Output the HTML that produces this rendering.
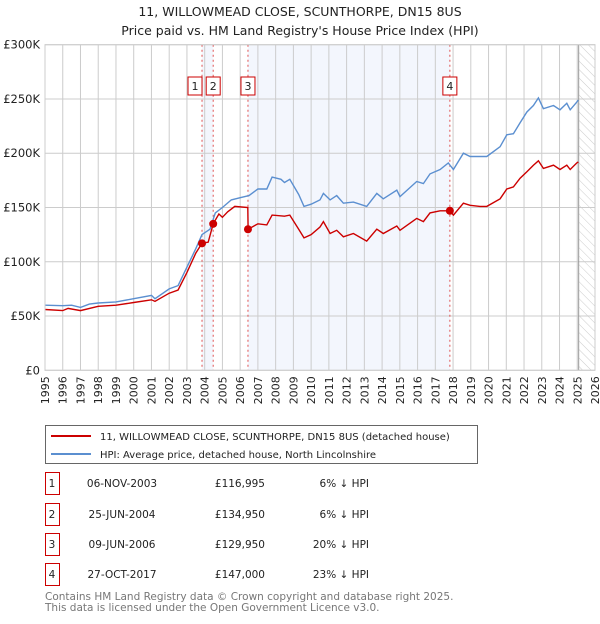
<!DOCTYPE html>
<html><head><meta charset="utf-8">
<style>
body{margin:0;background:#fff;font-family:"DejaVu Sans","Liberation Sans",sans-serif;}
svg text{font-family:"DejaVu Sans","Liberation Sans",sans-serif;}
</style></head>
<body>
<svg id="chart" width="600" height="620" xmlns="http://www.w3.org/2000/svg">
<defs>
<pattern id="hatch" width="6" height="6" patternUnits="userSpaceOnUse" patternTransform="rotate(-45)">
<line x1="0" y1="0" x2="0" y2="6" stroke="#ccc" stroke-width="1"/>
</pattern>
</defs>
<text x="300" y="16" text-anchor="middle" font-size="12.5" fill="#222">11, WILLOWMEAD CLOSE, SCUNTHORPE, DN15 8US</text>
<text x="300" y="35" text-anchor="middle" font-size="12.5" fill="#222">Price paid vs. HM Land Registry's House Price Index (HPI)</text>
<g id="plot"></g>
<g>
<rect x="45.5" y="425.5" width="432" height="38" fill="#fff" stroke="#666"/>
<line x1="51" y1="436" x2="91" y2="436" stroke="#cc0000" stroke-width="2"/>
<text x="100" y="440" font-size="10" fill="#222">11, WILLOWMEAD CLOSE, SCUNTHORPE, DN15 8US (detached house)</text>
<line x1="51" y1="454" x2="91" y2="454" stroke="#5b8fd0" stroke-width="2"/>
<text x="100" y="458" font-size="10" fill="#222">HPI: Average price, detached house, North Lincolnshire</text>
</g>
<g id="table" font-size="10.5" fill="#222"></g>
<text x="45" y="600" font-size="10.5" fill="#777">Contains HM Land Registry data © Crown copyright and database right 2025.</text>
<text x="45" y="611" font-size="10.5" fill="#777">This data is licensed under the Open Government Licence v3.0.</text>
</svg>
<script>
const years=[1995,1996,1997,1998,1999,2000,2001,2002,2003,2004,2005,2006,2007,2008,2009,2010,2011,2012,2013,2014,2015,2016,2017,2018,2019,2020,2021,2022,2023,2024,2025,2026];
const yTicks=[0,50000,100000,150000,200000,250000,300000];
const yTickLabels=["£0","£50K","£100K","£150K","£200K","£250K","£300K"];
const hpiT=[1995,1996,1996.5,1997,1997.5,1998,1999,2000,2001,2001.2,2002,2002.5,2003,2003.5,2003.85,2004.3,2004.6,2005,2005.5,2006,2006.5,2007,2007.5,2007.8,2008.3,2008.5,2008.8,2009.3,2009.6,2010,2010.5,2010.69,2011.07,2011.44,2011.82,2012.38,2013.13,2013.7,2014.07,2014.83,2015.01,2015.95,2016.33,2016.7,2017.27,2017.73,2018.02,2018.58,2018.96,2019.52,2019.9,2020.65,2021.03,2021.4,2021.78,2022.16,2022.53,2022.81,2023.09,2023.66,2024.03,2024.41,2024.6,2024.97,2025.06];
const hpiV=[60,59.5,60,58,61,62,63,66,69,66,75,78,95,112,125,130,145,150,157,159,161,167,167,178,176,173,176,162,151,153,157,163,157,161,154,155,151,163,158,166,160,174,172,181,185,191,185,200,197,197,197,206,217,218,228,238,244,251,241,244,240,246,240,247,249];
const ppT=[1995,1996,1996.3,1997,1998,1999,2000,2001,2001.2,2002,2002.5,2003,2003.5,2003.85,2004.2,2004.48,2004.8,2005,2005.3,2005.7,2006.43,2006.45,2007,2007.5,2007.8,2008.5,2008.8,2009.3,2009.6,2010,2010.5,2010.69,2011.07,2011.44,2011.82,2012.38,2013.13,2013.7,2014.07,2014.83,2015.01,2015.95,2016.33,2016.7,2017.27,2017.82,2018.02,2018.58,2018.96,2019.52,2019.9,2020.65,2021.03,2021.4,2021.78,2022.16,2022.53,2022.81,2023.09,2023.66,2024.03,2024.41,2024.6,2024.97,2025.06];
const ppV=[56,55,57,55,59,60,62.5,65,63.5,71,74,90,108,117,118,135,144,141,146,151,150,130,135,134,143,142,143,130,122,125,132,137,126,129,123,126,119,130,126,133,129,140,137,145,147,147,143,154,152,151,151,158,167,169,177,183,189,193,186,189,185,189,185,191,192];
const saleIds=["1","2","3","4"];
const saleT=[2003.85,2004.48,2006.44,2017.82];
const saleV=[116995,134950,129950,147000];
const saleDates=["06-NOV-2003","25-JUN-2004","09-JUN-2006","27-OCT-2017"];
const salePrices=["£116,995","£134,950","£129,950","£147,000"];
const saleHpi=["6% ↓ HPI","6% ↓ HPI","20% ↓ HPI","23% ↓ HPI"];

const X0=45,X1=595,Y0=370.3,Y1=44.7;
const xs=t=>X0+(t-1995)/(2026-1995)*(X1-X0);
const ys=v=>Y0-v/300000*(Y0-Y1);
const NS="http://www.w3.org/2000/svg";
const plot=document.getElementById('plot');
function mk(tag,attrs,parent){const e=document.createElementNS(NS,tag);for(const k in attrs)e.setAttribute(k,attrs[k]);(parent||plot).appendChild(e);return e;}

let r=mk('rect',{x:xs(saleT[0]),y:Y1,width:xs(saleT[1])-xs(saleT[0]),height:Y0-Y1,fill:'#eef2fc',opacity:0.7});


r=mk('rect',{x:xs(saleT[2]),y:Y1,width:xs(saleT[3])-xs(saleT[2]),height:Y0-Y1,fill:'#eef2fc',opacity:0.7});


r=mk('rect',{x:xs(2025.08),y:Y1,width:X1-xs(2025.08),height:Y0-Y1,fill:'url(#hatch)'});


years.forEach(y=>{const l=mk('line',{x1:xs(y),x2:xs(y),y1:Y1,y2:Y0,stroke:'#ccc','stroke-width':1});


const tx=xs(y)+4, ty=Y0+6;
const t=mk('text',{x:tx,y:ty,'font-size':11,fill:'#222','text-anchor':'end',transform:'rotate(-90 '+tx+' '+ty+')'});t.textContent=y;

});
yTicks.forEach((v,i)=>{const l=mk('line',{x1:X0,x2:X1,y1:ys(v),y2:ys(v),stroke:'#ccc','stroke-width':1});


const t=mk('text',{x:40,y:ys(v)+4,'font-size':11.5,fill:'#222','text-anchor':'end'});t.textContent=yTickLabels[i];

});
let v=mk('line',{x1:xs(2025.08),x2:xs(2025.08),y1:Y1,y2:Y0,stroke:'#999','stroke-width':1});


saleT.forEach((t,i)=>{const l=mk('line',{x1:xs(t),x2:xs(t),y1:Y1,y2:Y0,stroke:'#e05050','stroke-width':1,'stroke-dasharray':'2,3'});


const bx=(i==0)?xs(t)-14:xs(t)-7;const b=mk('rect',{x:bx,y:77,width:14,height:18,fill:'#fff',stroke:'#cc0000','stroke-width':1});


const tx=mk('text',{x:bx+7,y:90,'font-size':11,fill:'#222','text-anchor':'middle'});tx.textContent=saleIds[i];

});
function path(T,V){return T.map((t,i)=>(i?'L':'M')+xs(t).toFixed(1)+','+ys(V[i]*1000).toFixed(1)).join(' ');}
let p=mk('path',{d:path(hpiT,hpiV),fill:'none',stroke:'#5b8fd0','stroke-width':1.4});


p=mk('path',{d:path(ppT,ppV),fill:'none',stroke:'#cc0000','stroke-width':1.4});


saleT.forEach((t,i)=>{const c=mk('circle',{cx:xs(t),cy:ys(saleV[i]),r:4,fill:'#cc0000'});

});
let ax=mk('rect',{x:X0,y:Y1,width:X1-X0,height:Y0-Y1,fill:'none',stroke:'#ccc'});


const tb=document.getElementById('table');
const rowY=[483,514,544,574];
saleIds.forEach((id,i)=>{const y=rowY[i];
const b=mk('rect',{x:45.5,y:y-10.5,width:14,height:22,fill:'#fff',stroke:'#cc0000'},tb);


const cells=[[52,'middle',id,'table-id'],[122,'middle',saleDates[i],'table-date'],[265,'end',salePrices[i],'table-price'],[369,'end',saleHpi[i],'table-hpi-diff']];
cells.forEach(c=>{const t=mk('text',{x:c[0],y:y+4,'text-anchor':c[1],'font-size':10.5,fill:'#222'},tb);t.textContent=c[2];

});});
</script>
</body></html>
